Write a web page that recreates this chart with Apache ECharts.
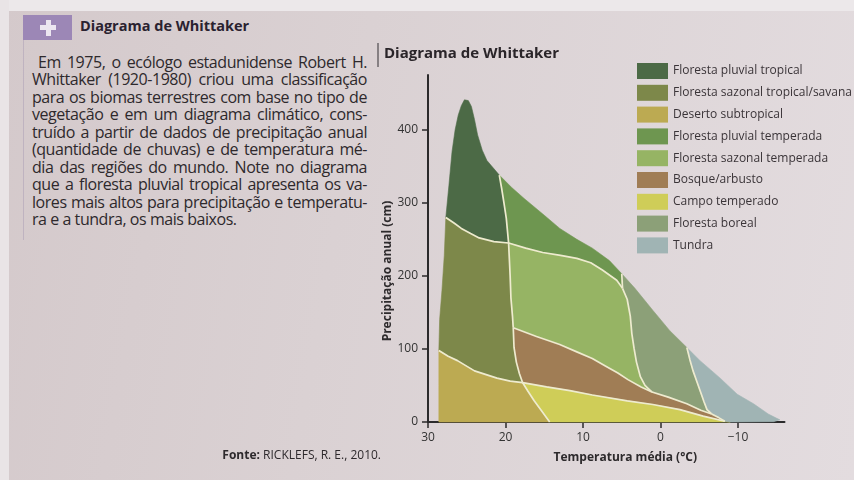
<!DOCTYPE html>
<html><head><meta charset="utf-8">
<script src="https://cdn.jsdelivr.net/npm/echarts@6/dist/echarts.min.js"></script>
<style>
html,body{margin:0;padding:0;width:854px;height:480px;overflow:hidden;}
body{background:linear-gradient(100deg,#d4c9cb 0%,#dad1d3 40%,#e3dcdf 100%);font-family:"Open Sans",sans-serif;position:relative;}
#edge{position:absolute;left:0;top:0;width:854px;height:11px;background:#ece8ea;}
#edgeL{position:absolute;left:0;top:0;width:9px;height:480px;background:#e9e4e6;}
#chart{position:absolute;left:0;top:0;width:854px;height:480px;}
.hdrbox{position:absolute;left:23px;top:15px;width:49px;height:25px;background:#9c87b6;}
.plus-h{position:absolute;left:40px;top:25px;width:16px;height:5px;background:#ece6f0;}
.plus-v{position:absolute;left:45.5px;top:19.5px;width:5px;height:16px;background:#ece6f0;}
.hdr{position:absolute;left:80px;top:16px;line-height:20px;font-weight:bold;font-size:14.5px;color:#2a2230;}
.bord{position:absolute;left:23px;top:40px;width:1px;height:200px;background:#bfb3c0;}
.p{position:absolute;left:32px;width:335px;font-family:"Open Sans",sans-serif;font-size:16px;letter-spacing:-0.45px;color:#2e292c;white-space:nowrap;text-align:justify;text-align-last:justify;line-height:17px;}
</style></head>
<body>
<div id="edge"></div><div id="edgeL"></div>
<div class="hdrbox"></div><div class="plus-h"></div><div class="plus-v"></div>
<div class="hdr">Diagrama de Whittaker</div>
<div class="bord"></div>
<div id="para"></div>
<div id="chart"></div>
<script>
// ---------- text ----------
const paragraphLines = [
  "Em 1975, o ecólogo estadunidense Robert H.",
  "Whittaker (1920-1980) criou uma classificação",
  "para os biomas terrestres com base no tipo de",
  "vegetação e em um diagrama climático, cons-",
  "truído a partir de dados de precipitação anual",
  "(quantidade de chuvas) e de temperatura mé-",
  "dia das regiões do mundo. Note no diagrama",
  "que a floresta pluvial tropical apresenta os va-",
  "lores mais altos para precipitação e temperatu-",
  "ra e a tundra, os mais baixos."
];
// ---------- axes ----------
const tempTicks = [30, 20, 10, 0, -10];
const precipTicks = [0, 100, 200, 300, 400];
// ---------- biomes ----------
const biomeNames = [
  "Floresta pluvial tropical",
  "Floresta sazonal tropical/savana",
  "Deserto subtropical",
  "Floresta pluvial temperada",
  "Floresta sazonal temperada",
  "Bosque/arbusto",
  "Campo temperado",
  "Floresta boreal",
  "Tundra"
];
const biomeColors = ["#4c6a46","#7d884a","#bcaa52","#6e9650","#96b464","#a07d55","#cfcd58","#8ca078","#a0b4b4"];

// boundary curves, [temperature °C, precipitation cm]
const leftLow   = [[28.6,0],[28.6,50],[28.6,98]];
const leftMid   = [[28.6,98],[28.5,140],[28.2,180],[27.9,228],[27.7,280]];
const peakEdge  = [[27.7,280],[27.3,324],[26.9,370],[26.5,400],[26.1,420],[25.7,433],[25.3,441],[24.8,440],[24.4,432],[24.0,414],[23.6,393],[23.0,372],[22.4,358],[21.6,348],[20.8,338]];
const topRight  = [[20.8,338],[19.2,321],[17.6,306],[15.0,283],[13.0,265],[10.8,250],[8.8,238],[6.6,221],[5.0,203]];
const borealTop = [[5.0,203],[3.3,183],[1.0,153],[-1.2,125],[-3.4,102]];
const tundraTop = [[-3.4,102],[-5.1,84],[-7.7,60],[-9.9,38],[-12.0,25],[-13.9,11],[-15.0,5],[-15.4,3],[-14.6,0.5]];
const tundraBase = [[-9.0,0]];
const lineA1 = [[27.7,280],[26.6,272],[25.7,265],[24.5,258],[23.4,252],[21.5,247],[19.6,245]];
const lineA2 = [[19.6,245],[17.4,238],[15.2,232],[12.9,228],[10.8,224],[9.0,218],[7.5,208],[5.65,194],[4.9,183]];
const lineB1 = [[20.8,338],[20.5,320],[20.2,300],[19.9,279],[19.6,245]];
const lineB2 = [[19.6,245],[19.4,200],[19.3,170],[19.1,145],[19.0,129]];
const lineB3 = [[19.0,129],[18.9,102],[18.6,82],[18.2,66],[17.8,54]];
const lineH  = [[5.0,203],[4.9,183]];
const lineG  = [[4.9,183],[4.3,168],[3.9,145],[3.7,121],[3.4,100],[3.1,82],[2.6,62],[2.0,50],[1.1,41]];
const lineF1 = [[19.0,129],[16.0,117],[13.0,106],[10.8,96],[8.8,87],[7.0,76],[5.5,67],[4.2,58],[2.5,48],[1.1,41]];
const lineF2 = [[1.1,41],[-1.0,34],[-3.4,25],[-5.2,16],[-6.6,11]];
const lineF3 = [[-6.6,11],[-7.5,6],[-8.3,1]];
const lineI  = [[-3.4,102],[-3.8,85],[-4.2,70],[-4.7,55],[-5.1,43],[-5.6,28],[-6.0,17],[-6.6,11]];
const lineD  = [[28.6,98],[27.4,90],[26.2,84],[24.0,70],[21.1,60],[19.4,56],[17.8,54]];
const lineC  = [[17.8,54],[17.1,42],[16.3,29],[15.4,16],[14.3,0]];
const lineE  = [[17.8,54],[14.7,48],[11.7,43],[8.8,37],[4.3,29],[1.0,24],[-2.5,17],[-5.5,8],[-8.3,1]];

// paragraph
const para = document.getElementById('para');
paragraphLines.forEach((t, i) => {
  const d = document.createElement('div');
  d.className = 'p';
  d.textContent = t;
  d.style.top = (53.5 + i * 17.5) + 'px';
  if (i === 0) { d.style.left = '38px'; d.style.width = '329px'; }
  if (i === paragraphLines.length - 1) { d.style.textAlignLast = 'left'; d.style.textAlign = 'left'; }
  para.appendChild(d);
});

const rev = a => a.slice().reverse();
const cat = (...parts) => [].concat(...parts);
const polygons = [
  cat(peakEdge, lineB1, rev(lineA1)),
  cat(leftMid, lineA1, lineB2, lineB3, rev(lineD)),
  cat(leftLow, lineD, lineC),
  cat(topRight, lineH, rev(lineA2), rev(lineB1)),
  cat(lineA2, lineG, rev(lineF1), rev(lineB2)),
  cat(lineF1, lineF2, lineF3, rev(lineE), rev(lineB3)),
  cat(lineE, tundraBase, rev(lineC)),
  cat(borealTop, lineI, rev(lineF2), rev(lineG), rev(lineH)),
  cat(tundraTop, tundraBase, rev(lineF3), rev(lineI))
];
const innerLines = [lineA1, lineA2, lineB1, lineB2, lineB3, lineH, lineG, lineF1, lineF2, lineF3, lineI, lineD, lineC, lineE];

const series = biomeNames.map((name, i) => ({
  type: 'custom',
  name: name,
  coordinateSystem: 'cartesian2d',
  itemStyle: { color: biomeColors[i] },
  data: [polygons[i][0]],
  silent: true,
  z: 2,
  renderItem: (params, api) => ({
    type: 'polygon',
    shape: { points: polygons[i].map(p => api.coord(p)) },
    style: { fill: biomeColors[i], stroke: biomeColors[i], lineWidth: 0.6 }
  })
}));
series.push({
  type: 'custom',
  name: 'limites',
  coordinateSystem: 'cartesian2d',
  data: innerLines.map((l, k) => [l[0][0], l[0][1], k]),
  silent: true,
  z: 3,
  renderItem: (params, api) => ({
    type: 'polyline',
    shape: { points: innerLines[params.dataIndex].map(p => api.coord(p)) },
    style: { stroke: '#eeebcf', lineWidth: 1.7, fill: null, lineJoin: 'round' }
  })
});

const chart = echarts.init(document.getElementById('chart'), null, { renderer: 'canvas' });
const axisColor = '#2b2a2b';
chart.setOption({
  backgroundColor: 'transparent',
  animation: false,
  textStyle: { fontFamily: 'Open Sans' },
  title: {
    text: 'Diagrama de Whittaker', left: 384, top: 46, padding: 0,
    textStyle: { fontSize: 15, fontWeight: 'bold', color: '#2a2529', fontFamily: 'Open Sans' }
  },
  legend: {
    data: biomeNames, orient: 'vertical', left: 637, top: 63,
    itemWidth: 31, itemHeight: 16, itemGap: 5.8, icon: 'rect', padding: 0,
    textStyle: { fontSize: 12, color: '#3a3438', fontFamily: 'Open Sans' },
    selectedMode: false
  },
  grid: { left: 428, right: 69.5, top: 75, bottom: 58, containLabel: false },
  xAxis: {
    type: 'value', inverse: true, min: -16, max: 30,
    name: 'Temperatura média (°C)', nameLocation: 'middle', nameGap: 30,
    nameTextStyle: { fontSize: 12, fontWeight: 'bold', color: '#2d2a2c', padding: [0, 0, 0, 38] },
    axisLine: { show: true, onZero: false, lineStyle: { color: axisColor, width: 2 } },
    axisTick: { show: true, customValues: tempTicks, length: 6, lineStyle: { color: axisColor, width: 1.5 } },
    axisLabel: { customValues: tempTicks, margin: 10, fontSize: 12, color: '#333',
      formatter: v => v < 0 ? '\u2212' + Math.abs(v) : String(v) },
    splitLine: { show: false }
  },
  yAxis: {
    type: 'value', min: 0, max: 475,
    axisLine: { show: true, onZero: false, lineStyle: { color: axisColor, width: 2 } },
    axisTick: { show: true, customValues: precipTicks, length: 6, lineStyle: { color: axisColor, width: 1.5 } },
    axisLabel: { customValues: precipTicks, margin: 10, fontSize: 12, color: '#333' },
    splitLine: { show: false }
  },
  graphic: [
    { type: 'line', shape: { x1: 378, y1: 43, x2: 378, y2: 67 }, style: { stroke: '#6a6468', lineWidth: 1.5 } },
    { type: 'text', x: 388, y: 271, rotation: Math.PI / 2,
      style: { text: 'Precipitação anual (cm)', fill: '#2d2a2c', fontSize: 12, fontWeight: 'bold', fontFamily: 'Open Sans',
        align: 'center', verticalAlign: 'middle' } },
    { type: 'text', right: 854 - 381, top: 450,
      style: { text: '{b|Fonte:} RICKLEFS, R. E., 2010.', fill: '#2e2a2d', font: '12px "Open Sans"',
        rich: { b: { fontWeight: 'bold', fontSize: 12, fontFamily: 'Open Sans', fill: '#2e2a2d' } } } }
  ],
  series: series
});
</script>
</body></html>
